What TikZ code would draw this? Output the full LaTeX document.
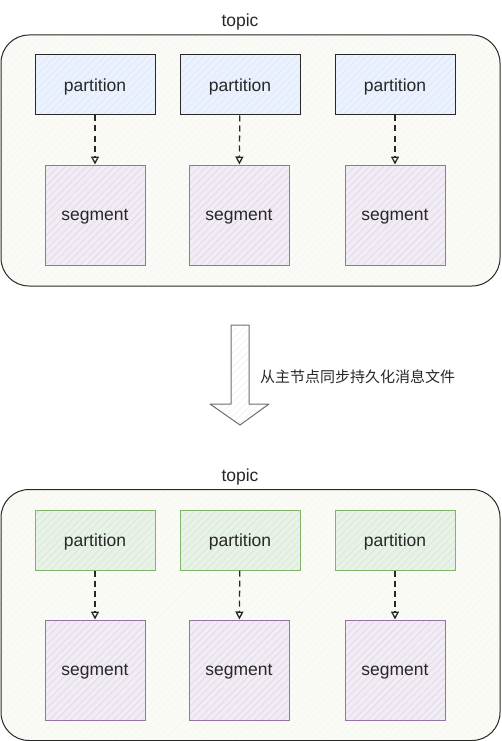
\documentclass[tikz,border=0pt]{standalone}
\usepackage{fontspec}
\setmainfont{Liberation Sans}
\newfontfamily\cjk{Noto Sans CJK SC}
\usetikzlibrary{arrows.meta, positioning, patterns.meta}
\definecolor{myink}{RGB}{40,40,40}
\definecolor{mypaper}{RGB}{251,251,245}
\definecolor{myblue}{RGB}{218,232,252}
\definecolor{mygreen}{RGB}{213,232,212}
\definecolor{mygreenline}{RGB}{130,179,102}
\definecolor{mypurple}{RGB}{225,213,231}
\definecolor{mypurpleline}{RGB}{150,115,166}
\definecolor{mygray}{RGB}{110,110,110}

\begin{document}
\begin{tikzpicture}[x=1pt, y=-1pt,
                    hatch/.style 2 args={preaction={fill=#1}, preaction={pattern={Lines[angle=45,distance=5pt,line width=0.6pt]}, pattern color=#2}},
                    boxtext/.style={text=myink, text depth=0pt, font=\fontsize{17.5}{20}\selectfont},
                    topicbox/.style={draw=myink, line width=1pt, rounded corners=28pt, hatch={mypaper}{black!4}, minimum width=499pt, minimum height=251pt, inner sep=0pt},
                    topiclabel/.style={boxtext},
                    partA/.style={boxtext, draw=myink, line width=1pt, hatch={myblue!55}{myblue}, minimum width=120pt, minimum height=60pt, inner sep=0pt},
                    partB/.style={boxtext, draw=mygreenline, line width=1pt, hatch={mygreen!55}{mygreen}, minimum width=120pt, minimum height=60pt, inner sep=0pt},
                    segbox/.style={boxtext, draw=mypurpleline, line width=1pt, hatch={mypurple!45}{mypurple}, minimum width=100pt, minimum height=100pt, inner sep=0pt},
                    link/.style={draw=myink, line width=1.3pt, dash pattern=on 6pt off 4pt, -{Triangle[open, length=8pt, width=8pt]}},
                    bigarrow/.style={draw=mygray, line width=1pt, hatch={white}{black!6}, line join=round}]
                    \useasboundingbox (0,0) rectangle (501,741);
                    \node[topicbox] (topicA) at (250.5,160.5) {};
                    \node[topiclabel] (labelA) at (240,20) {topic};
                    \foreach \i/\x/\sx in {1/95/95, 2/240/239, 3/395/395} {
                        \node[partA] (pA\i) at (\x,85) {partition};
                        \node[segbox] (sA\i) at (\sx,215) {segment};
                        \draw[link] (pA\i) -- (sA\i);
                    }
                    \draw[bigarrow] (231,325) -- (249,325) -- (249,404) -- (269,404) -- (240,425) -- (210,404) -- (231,404) -- cycle;
                    \node[anchor=west, inner sep=0pt, text=myink, font=\fontsize{15}{18}\selectfont] (sync) at (260,377) {\cjk 从主节点同步持久化消息文件};
                    \node[topicbox] (topicB) at (250.5,615) {};
                    \node[topiclabel] (labelB) at (240,475) {topic};
                    \foreach \i/\x/\sx in {1/95/95, 2/240/239, 3/395/395} {
                        \node[partB] (pB\i) at (\x,540) {partition};
                        \node[segbox] (sB\i) at (\sx,670) {segment};
                        \draw[link] (pB\i) -- (sB\i);
                    }
                \end{tikzpicture}
\end{document}
